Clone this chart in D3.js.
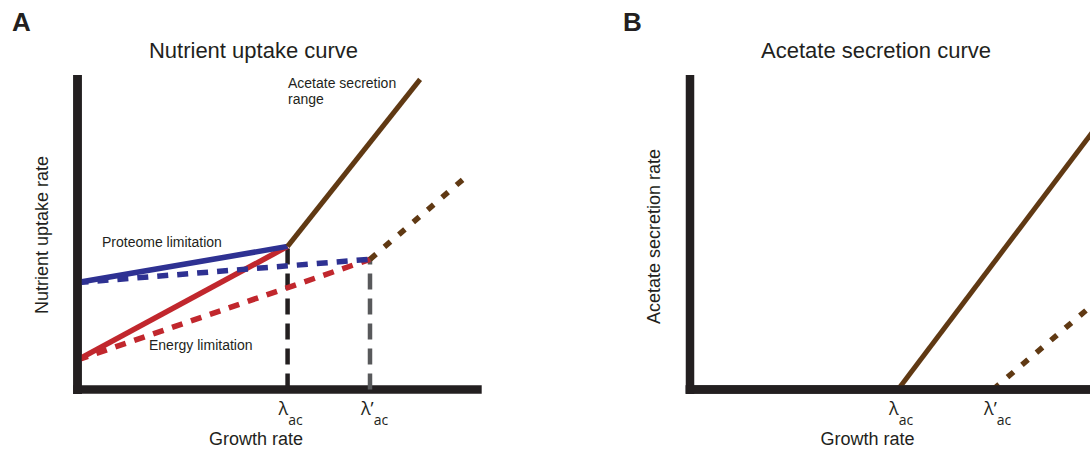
<!DOCTYPE html>
<html>
<head>
<meta charset="utf-8">
<script src="https://cdn.jsdelivr.net/npm/d3@7"></script>
<style>
  html, body { margin: 0; padding: 0; background: #fff; }
  svg { display: block; }
  text { fill: #231f20; font-family: "Liberation Sans", Arial, Helvetica, sans-serif; }
  .lam { font-family: "Open Sans", "DejaVu Sans", sans-serif; }
</style>
</head>
<body>
<svg id="chart" width="1090" height="452"></svg>
<script>
// ---------- data (x: growth rate, y: rate; arbitrary units 0-100) ----------
const panelLetters = ["A", "B"];
const panelTitles = ["Nutrient uptake curve", "Acetate secretion curve"];
const yAxisLabels = ["Nutrient uptake rate", "Acetate secretion rate"];
const xAxisLabel = "Growth rate";
const lambdaLabels = ["λ", "λ’"];
const lambdaSub = "ac";

// panel A
const lambdaA = [52, 72.4];                       // λac, λ'ac
const proteomeSolid = [[0, 34.0], [52, 45.5]];
const proteomeDashed = [[0, 34.0], [72.4, 41.4]];
const energySolid = [[0, 9.4], [52, 45.5]];
const energyDashed = [[0, 9.4], [72.4, 41.4]];
const acetateSolidA = [[52, 45.5], [84.8, 98.6]];
const acetateDashedA = [[72.4, 41.4], [96.7, 68.2]];
const annotationsA = ["Proteome limitation", "Energy limitation", "Acetate secretion", "range"];

// panel B
const lambdaB = [51.5, 75];
const acetateSolidB = [[51.5, 0], [100, 82.5]];
const acetateDashedB = [[75, 0], [100, 27.3]];

// ---------- colours ----------
const C = { blue: "#2e3192", red: "#c1272d", brown: "#603913", black: "#231f20", gray: "#58595b" };

// ---------- scales ----------
const y = d3.scaleLinear().domain([0, 100]).range([389.5, 75]);
const xA = d3.scaleLinear().domain([0, 100]).range([77.5, 481.5]);
const xB = d3.scaleLinear().domain([0, 100]).range([690, 1094]);

const svg = d3.select("#chart");

function drawAxes(g, x, xEnd) {
  const [x0] = x.range();
  g.append("line").attr("x1", x0).attr("x2", x0)
    .attr("y1", y(0) + 4.5).attr("y2", y.range()[1])
    .attr("stroke", C.black).attr("stroke-width", 8.5);
  g.append("line").attr("x1", x0 - 4.25).attr("x2", xEnd)
    .attr("y1", y(0)).attr("y2", y(0))
    .attr("stroke", C.black).attr("stroke-width", 8.5);
}

function drawLine(g, x, pts, color, width, dash) {
  const line = d3.line().x(d => x(d[0])).y(d => y(d[1]));
  const p = g.append("path").attr("d", line(pts))
    .attr("fill", "none").attr("stroke", color)
    .attr("stroke-width", width).attr("stroke-linecap", "butt");
  if (dash) p.attr("stroke-dasharray", dash);
  return p;
}

function drawLambdas(g, x, lams) {
  lams.forEach((l, i) => {
    const t = g.append("text").attr("class", "lam")
      .attr("x", x(l) - 9).attr("y", 415).attr("font-size", 18);
    t.append("tspan").text(lambdaLabels[i]);
    t.append("tspan").attr("dy", 10).attr("font-size", 14).text(lambdaSub);
  });
}

// ---------- Panel A ----------
const gA = svg.append("g");
drawAxes(gA, xA, 481.7);
// vertical guides (drawn from axis upward)
drawLine(gA, xA, [[lambdaA[0], 0], [lambdaA[0], 45.5]], C.black, 4.5, "16,9");
drawLine(gA, xA, [[lambdaA[1], 0], [lambdaA[1], 41.4]], C.gray, 4.5, "16,9");
drawLine(gA, xA, energySolid, C.red, 5.5);
drawLine(gA, xA, energyDashed, C.red, 5.5, "11,9");
drawLine(gA, xA, proteomeSolid, C.blue, 5.5);
drawLine(gA, xA, proteomeDashed, C.blue, 5.5, "11,9");
drawLine(gA, xA, acetateSolidA, C.brown, 5);
drawLine(gA, xA, acetateDashedA, C.brown, 5.5, "8,11");
// redraw axes edge cover on left so lines start at axis
gA.append("line").attr("x1", xA(0)).attr("x2", xA(0))
  .attr("y1", y(0) + 4.5).attr("y2", y.range()[1])
  .attr("stroke", C.black).attr("stroke-width", 8.5);

gA.append("text").attr("x", 12).attr("y", 31).attr("font-size", 26)
  .attr("font-weight", "bold").text(panelLetters[0]);
gA.append("text").attr("x", 253.5).attr("y", 58).attr("font-size", 22)
  .attr("text-anchor", "middle").text(panelTitles[0]);
gA.append("text").attr("transform", "translate(48,235) rotate(-90)")
  .attr("font-size", 18).attr("text-anchor", "middle").text(yAxisLabels[0]);
gA.append("text").attr("x", 256).attr("y", 445).attr("font-size", 18)
  .attr("text-anchor", "middle").text(xAxisLabel);
gA.append("text").attr("x", 102).attr("y", 247).attr("font-size", 14).text(annotationsA[0]);
gA.append("text").attr("x", 149).attr("y", 350).attr("font-size", 14).text(annotationsA[1]);
gA.append("text").attr("x", 288).attr("y", 88).attr("font-size", 14).text(annotationsA[2]);
gA.append("text").attr("x", 288).attr("y", 104).attr("font-size", 14).text(annotationsA[3]);
drawLambdas(gA, xA, lambdaA);

// ---------- Panel B ----------
const gB = svg.append("g");
drawAxes(gB, xB, 1094);
drawLine(gB, xB, acetateSolidB, C.brown, 5);
drawLine(gB, xB, acetateDashedB, C.brown, 5.5, "8,11");
gB.append("line").attr("x1", xB(0) - 4.25).attr("x2", 1094)
  .attr("y1", y(0)).attr("y2", y(0))
  .attr("stroke", C.black).attr("stroke-width", 8.5);

gB.append("text").attr("x", 623).attr("y", 31).attr("font-size", 26)
  .attr("font-weight", "bold").text(panelLetters[1]);
gB.append("text").attr("x", 876).attr("y", 58).attr("font-size", 22)
  .attr("text-anchor", "middle").text(panelTitles[1]);
gB.append("text").attr("transform", "translate(660,236.5) rotate(-90)")
  .attr("font-size", 18).attr("text-anchor", "middle").text(yAxisLabels[1]);
gB.append("text").attr("x", 867.5).attr("y", 445).attr("font-size", 18)
  .attr("text-anchor", "middle").text(xAxisLabel);
drawLambdas(gB, xB, lambdaB);
</script>
</body>
</html>
